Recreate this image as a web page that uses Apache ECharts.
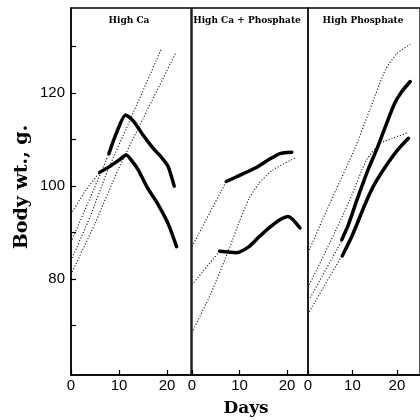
<!DOCTYPE html>
<html><head><meta charset="utf-8">
<script src="https://cdn.jsdelivr.net/npm/echarts@6/dist/echarts.min.js"></script>
<style>html,body{margin:0;padding:0;background:#fff}#c{width:420px;height:420px}</style>
</head><body><div id="c"></div><script>
// ---- data ----
const panelTitles = ['High Ca', 'High Ca + Phosphate', 'High Phosphate'];
const yTickValues = [70, 80, 90, 100, 110, 120, 130];
const yLabelValues = [80, 100, 120];
const xLabelValues = [0, 10, 20];
const yAxisTitle = 'Body wt., g.';
const xAxisTitle = 'Days';

// Panel 1: High Ca
const caSolidUpper = [[7.9,107],[9.5,111.5],[11.4,115.3],[13,114],[15,111],[17,108.3],[19,106],[20.2,104.3],[21.5,100]];
const caSolidLower = [[6,103],[8,104.2],[10,105.6],[11.5,106.7],[13,105],[14,103.5],[16,99.5],[18,96.3],[20.2,92],[22,87]];
const caDottedA = [[0,94],[3,99],[6,103]];
const caDottedB = [[0,88],[4,97.5],[7.9,107]];
const caDottedC = [[0,84],[4,93.5],[7.7,103.5],[12,113.5],[18.9,129.7]];
const caDottedD = [[0,81],[5,92],[9.8,103.5],[15,114.5],[21.8,128.6]];

// Panel 2: High Ca + Phosphate
const caPSolidUpper = [[7.2,101],[10,102.3],[13.5,104],[16,105.6],[18.5,107],[21,107.3]];
const caPSolidLower = [[5.8,86],[9.3,85.7],[12,87],[14,89],[16.4,91.2],[18.5,92.8],[20.2,93.5],[22.7,91]];
const caPDottedA = [[0,87],[7.2,101]];
const caPDottedB = [[0,78.8],[5.8,86]];
const caPDottedC = [[0,68.5],[4,77],[8,87],[10,92.5],[12,97.3],[14,100.5],[17,103.5],[21.6,106]];

// Panel 3: High Phosphate
const pSolidUpper = [[7.6,88.5],[9,91.5],[11,97],[13.5,103.5],[15.5,108],[17.5,113],[19.5,117.8],[21,120.2],[23,122.5]];
const pSolidLower = [[7.7,85],[10,89.5],[13,96.5],[15,100.5],[17.5,104.3],[20,107.6],[22.6,110.3]];
const pDottedA = [[0.3,86.3],[5,96.5],[10.4,107.8],[13.9,116.4],[17.4,125],[20,128.5],[23,130.5]];
const pDottedB = [[0.3,78.8],[5,88],[9.4,97],[13.2,105.7],[16.3,109.2],[19,110.3],[22.2,111.4]];
const pDottedC = [[0.5,76],[7.9,88.8]];
const pDottedD = [[0.3,73],[7.6,85]];

// ---- chart ----
const serif = 'DejaVu Serif';
const sans = 'Liberation Sans';
const grids = [
  {left: 71, top: 8, width: 120, height: 367, xMax: 25},
  {left: 192, top: 8, width: 116, height: 367, xMax: 24.4},
  {left: 308, top: 8, width: 121, height: 367, xMax: 25.2}
];
const yMin = 59.4, yMax = 138.3;

const option = {
  animation: false,
  backgroundColor: '#fff',
  grid: grids.map(g => ({left: g.left, top: g.top, width: g.width, height: g.height,
    show: true, borderColor: '#000', borderWidth: 1.3, containLabel: false})),
  xAxis: grids.map((g, i) => ({
    type: 'value', gridIndex: i, min: 0, max: g.xMax,
    axisLine: {show: true, lineStyle: {color: '#000', width: 1.5}},
    axisTick: {show: true, inside: true, length: 5, customValues: xLabelValues, lineStyle: {color: '#000', width: 1.2}},
    axisLabel: {show: true, customValues: xLabelValues, color: '#000', fontFamily: sans, fontSize: 15, margin: 3},
    splitLine: {show: false}
  })),
  yAxis: grids.map((g, i) => ({
    type: 'value', gridIndex: i, min: yMin, max: yMax,
    axisLine: {show: i === 0, lineStyle: {color: '#000', width: 1.5}},
    axisTick: {show: i === 0, inside: true, length: 5, customValues: yTickValues, lineStyle: {color: '#000', width: 1.2}},
    axisLabel: {show: i === 0, customValues: yLabelValues, color: '#000', fontFamily: sans, fontSize: 15, margin: 6},
    splitLine: {show: false}
  })),
  series: [],
  graphic: [
    ...panelTitles.map((t, i) => ({
      type: 'text', x: [129, 247, 363][i], y: 21,
      style: {text: t, fill: '#000', font: 'bold 9px "' + serif + '"', textAlign: 'center', textVerticalAlign: 'middle'}
    })),
    {type: 'text', x: 22, y: 187, rotation: Math.PI / 2,
     style: {text: yAxisTitle, fill: '#000', font: 'bold 19px "' + serif + '"', textAlign: 'center', textVerticalAlign: 'middle'}},
    {type: 'text', x: 246, y: 409,
     style: {text: xAxisTitle, fill: '#000', font: 'bold 17px "' + serif + '"', textAlign: 'center', textVerticalAlign: 'middle'}}
  ]
};

function solid(data, idx) {
  return {type: 'line', xAxisIndex: idx, yAxisIndex: idx, data: data, showSymbol: false, smooth: 0.25,
    lineStyle: {color: '#000', width: 3.5, cap: 'round', join: 'round'}, silent: true};
}
function dotted(data, idx) {
  return {type: 'line', xAxisIndex: idx, yAxisIndex: idx, data: data, showSymbol: false, smooth: 0.2,
    lineStyle: {color: '#111', width: 1.1, type: [1.1, 1.9]}, silent: true};
}
option.series.push(
  dotted(caDottedA, 0), dotted(caDottedB, 0), dotted(caDottedC, 0), dotted(caDottedD, 0),
  solid(caSolidUpper, 0), solid(caSolidLower, 0),
  dotted(caPDottedA, 1), dotted(caPDottedB, 1), dotted(caPDottedC, 1),
  solid(caPSolidUpper, 1), solid(caPSolidLower, 1),
  dotted(pDottedA, 2), dotted(pDottedB, 2), dotted(pDottedC, 2), dotted(pDottedD, 2),
  solid(pSolidUpper, 2), solid(pSolidLower, 2)
);

const chart = echarts.init(document.getElementById('c'), null, {renderer: 'canvas'});
chart.setOption(option);
</script></body></html>
